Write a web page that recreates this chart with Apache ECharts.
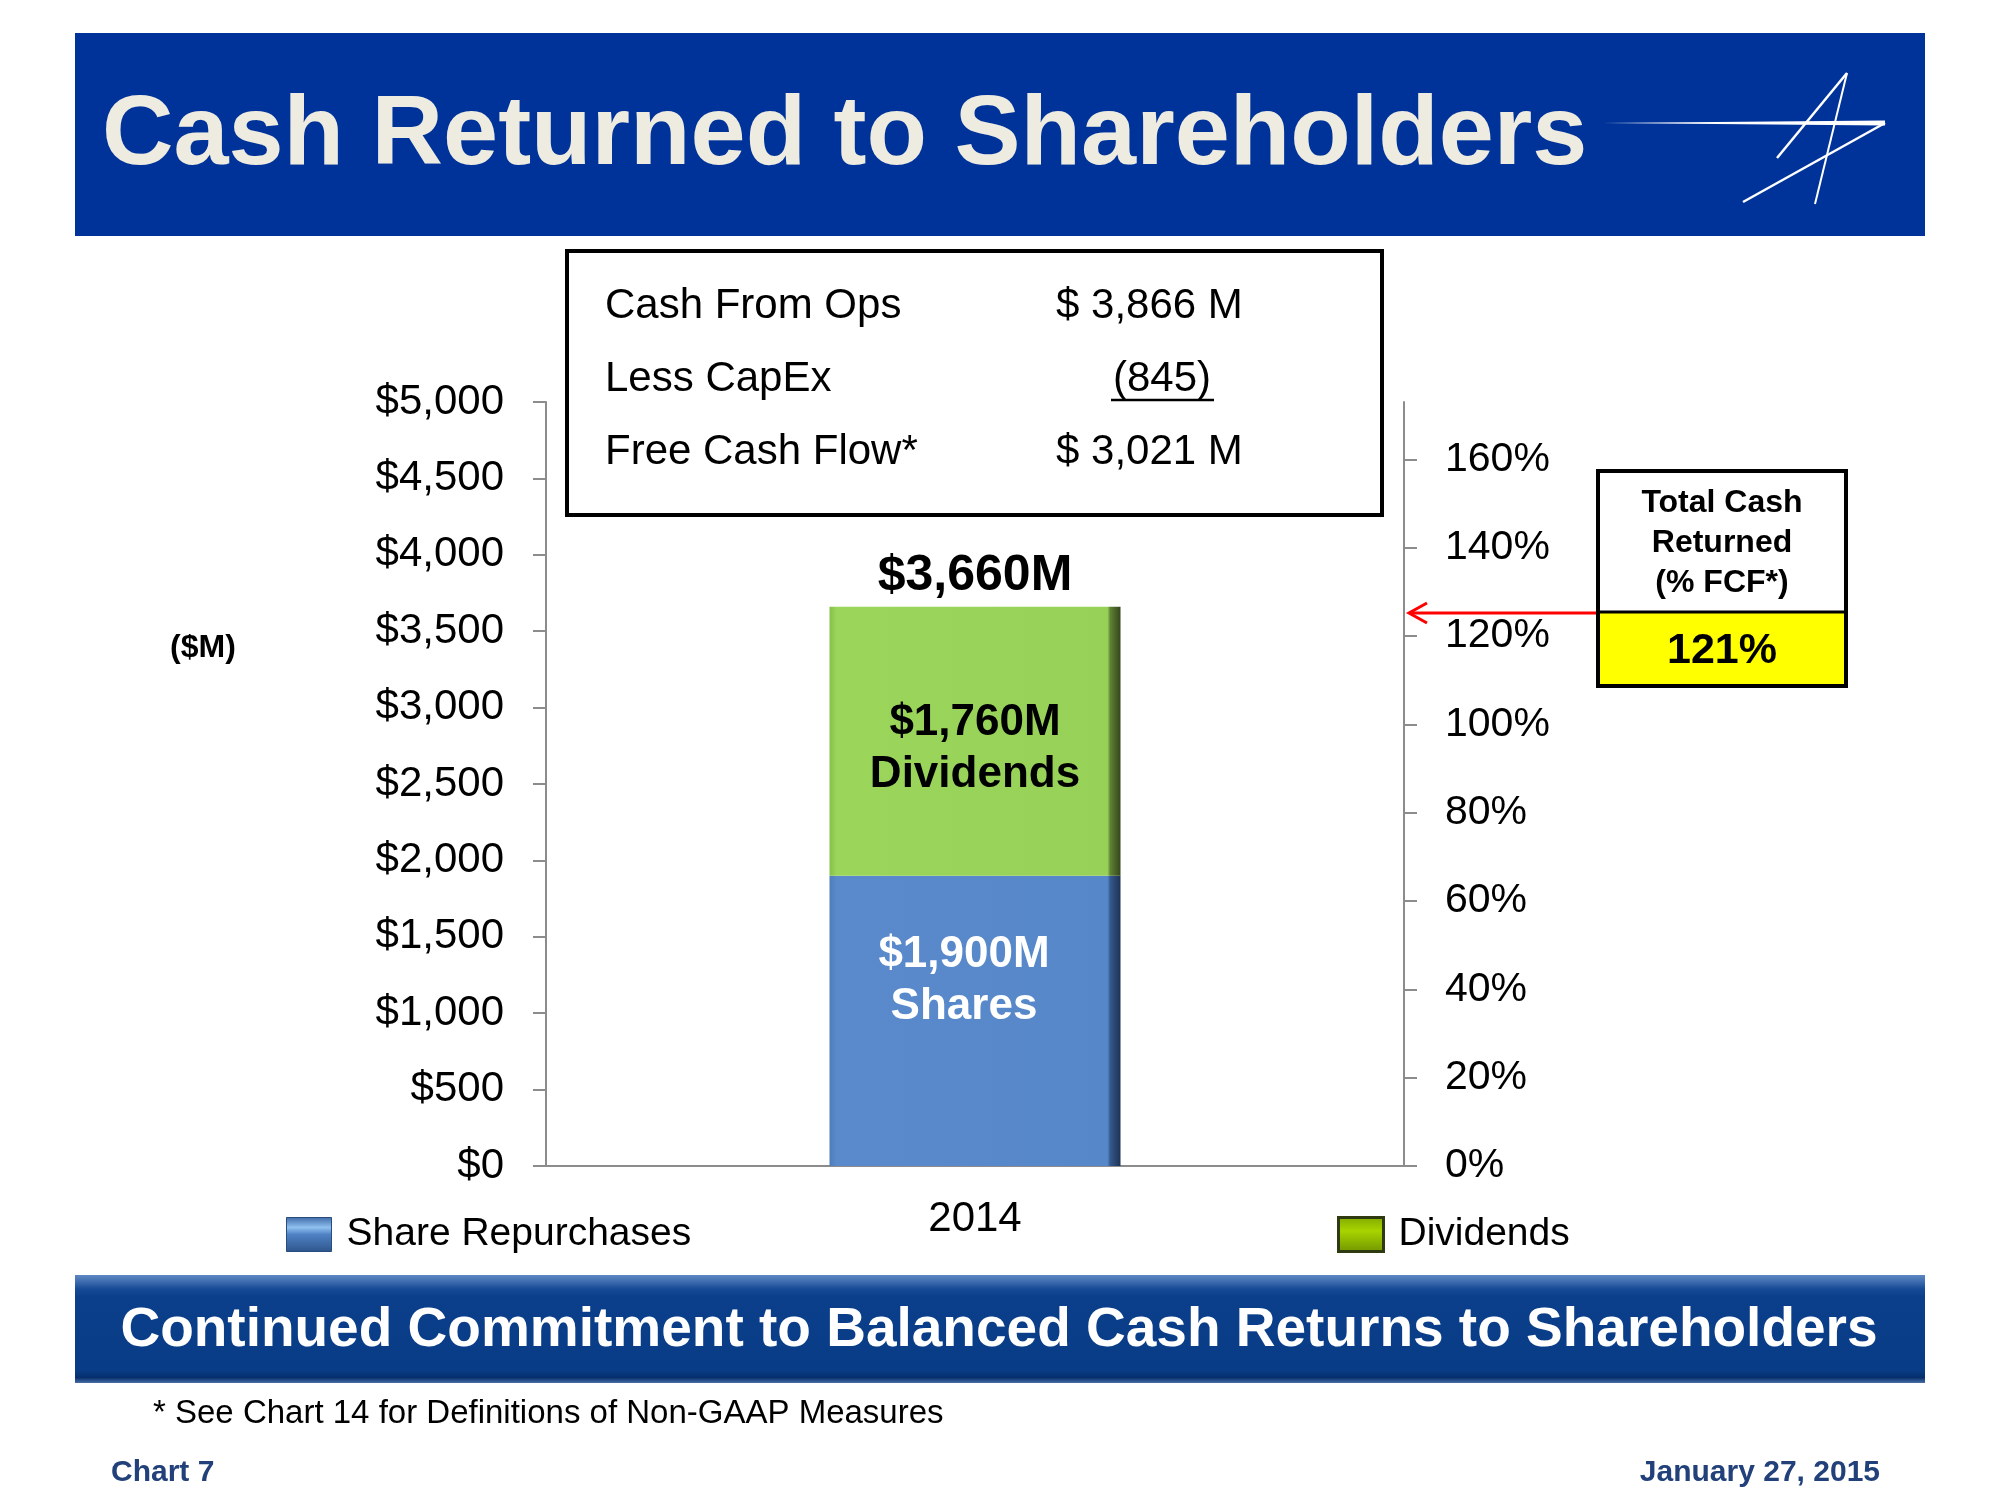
<!DOCTYPE html>
<html>
<head>
<meta charset="utf-8">
<script src="https://cdn.jsdelivr.net/npm/echarts@6/dist/echarts.min.js"></script>
<style>
  html, body { margin: 0; padding: 0; background: #ffffff; }
  #chart { width: 2000px; height: 1500px; }
</style>
</head>
<body>
<div id="chart"></div>
<script>
// ---- data ----
const years = ['2014'];
const shareRepurchases = [1900];
const dividends = [1760];
const segmentNames = ['Shares', 'Dividends'];
const seriesNames = ['Share Repurchases', 'Dividends'];
const leftAxisMin = 0, leftAxisMax = 5000, leftAxisStep = 500;
const rightTicks = [0, 20, 40, 60, 80, 100, 120, 140, 160];
const rightAxisMax = 173;
const tableLabels = ['Cash From Ops', 'Less CapEx', 'Free Cash Flow*'];
const tableValues = ['$ 3,866 M', '(845)', '$ 3,021 M'];
const pctFCF = 121;
const boxTitle = ['Total Cash', 'Returned', '(% FCF*)'];
const title = 'Cash Returned to Shareholders';
const banner = 'Continued Commitment to Balanced Cash Returns to Shareholders';
const footnote = '* See Chart 14 for Definitions of Non-GAAP Measures';
const footLeft = 'Chart 7';
const footRight = 'January 27, 2015';
const unitLabel = '($M)';

const totals = years.map((_, i) => shareRepurchases[i] + dividends[i]);
const FONT = "'Liberation Sans', Arial, Helvetica, sans-serif";
const fmtMoney = v => '$' + v.toLocaleString('en-US');

const chart = echarts.init(document.getElementById('chart'), null, { renderer: 'canvas' });
const LG = echarts.graphic.LinearGradient;

const greenFill = new LG(0, 0, 1, 0, [
  { offset: 0, color: '#86BF4A' }, { offset: 0.025, color: '#9BD65B' },
  { offset: 0.955, color: '#97D158' }, { offset: 0.965, color: '#5F8233' },
  { offset: 1, color: '#34461C' }
]);
const blueFill = new LG(0, 0, 1, 0, [
  { offset: 0, color: '#4F7DBB' }, { offset: 0.025, color: '#5A8ACB' },
  { offset: 0.955, color: '#5687C8' }, { offset: 0.965, color: '#34588C' },
  { offset: 1, color: '#1D3254' }
]);

const option = {
  backgroundColor: '#ffffff',
  animation: false,
  textStyle: { fontFamily: FONT },
  grid: { left: 546, right: 596, top: 402, bottom: 334, containLabel: false },
  xAxis: {
    type: 'category',
    data: years,
    axisLine: { show: true, lineStyle: { color: '#8C8C8C', width: 2 } },
    axisTick: { show: false },
    axisLabel: { fontSize: 42, color: '#000', margin: 32, fontFamily: FONT },
    splitLine: { show: false }
  },
  yAxis: [
    {
      type: 'value', min: leftAxisMin, max: leftAxisMax, interval: leftAxisStep,
      position: 'left',
      axisLine: { show: true, lineStyle: { color: '#8C8C8C', width: 2 } },
      axisTick: { show: true, length: 13, lineStyle: { color: '#8C8C8C', width: 2 } },
      axisLabel: { fontSize: 42, color: '#000', margin: 42, fontFamily: FONT, formatter: v => fmtMoney(v) },
      splitLine: { show: false }
    },
    {
      type: 'value', min: 0, max: rightAxisMax, interval: 20,
      position: 'right',
      axisLine: { show: true, lineStyle: { color: '#8C8C8C', width: 2 } },
      axisTick: { show: true, length: 13, lineStyle: { color: '#8C8C8C', width: 2 }, customValues: rightTicks },
      axisLabel: {
        fontSize: 41, color: '#000', margin: 41, fontFamily: FONT, customValues: rightTicks,
        formatter: v => (rightTicks.indexOf(v) >= 0 ? v + '%' : '')
      },
      splitLine: { show: false }
    }
  ],
  legend: [
    {
      left: 286, top: 1215, itemWidth: 45, itemHeight: 34, padding: 0,
      icon: 'rect', selectedMode: false,
      textStyle: { fontSize: 39, color: '#000', fontFamily: FONT, padding: [0, 0, 0, 10] },
      data: [{ name: seriesNames[0], itemStyle: { color: new LG(0, 0, 0, 1, [
        { offset: 0, color: '#3E6AA6' }, { offset: 0.3, color: '#8FC0F0' },
        { offset: 0.5, color: '#4F82C4' }, { offset: 1, color: '#2E558C' }]), borderColor: '#2A4C7C', borderWidth: 1 } }]
    },
    {
      left: 1337, top: 1215, itemWidth: 45, itemHeight: 34, padding: 0,
      icon: 'rect', selectedMode: false,
      textStyle: { fontSize: 39, color: '#000', fontFamily: FONT, padding: [0, 0, 0, 10] },
      data: [{ name: seriesNames[1], itemStyle: { color: new LG(0, 0, 0, 1, [
        { offset: 0, color: '#7FA800' }, { offset: 0.4, color: '#A8D400' },
        { offset: 1, color: '#6F9400' }]), borderColor: '#2F3A10', borderWidth: 3 } }]
    }
  ],
  series: [
    {
      name: seriesNames[0], type: 'bar', stack: 'total', barWidth: 291,
      data: shareRepurchases,
      itemStyle: { color: blueFill },
      label: {
        show: true, position: 'inside', offset: [-11, -40],
        formatter: p => fmtMoney(p.value) + 'M\n' + segmentNames[0],
        fontSize: 44, fontWeight: 'bold', color: '#ffffff', lineHeight: 52, fontFamily: FONT
      }
    },
    {
      name: seriesNames[1], type: 'bar', stack: 'total', barWidth: 291,
      data: dividends,
      itemStyle: { color: greenFill },
      label: {
        show: true, position: 'inside', offset: [0, 8],
        formatter: p => fmtMoney(p.value) + 'M\n' + segmentNames[1],
        fontSize: 44, fontWeight: 'bold', color: '#000000', lineHeight: 52, fontFamily: FONT
      }
    },
    {
      name: 'Total', type: 'scatter', symbolSize: 0, silent: true,
      itemStyle: { opacity: 1 },
      data: totals.map((t, i) => [years[i], t]),
      label: {
        show: true, position: 'top', distance: 6, opacity: 1,
        formatter: p => fmtMoney(p.value[1]) + 'M',
        fontSize: 50, fontWeight: 'bold', color: '#000000', fontFamily: FONT
      }
    }
  ],
  graphic: [
    // header band
    { type: 'rect', shape: { x: 75, y: 33, width: 1850, height: 203 }, style: { fill: '#003399' }, z: 0 },
    { type: 'text', x: 102, y: 137, style: { text: title, fill: '#EEECE1', font: 'bold 99px ' + FONT, textVerticalAlign: 'middle' }, z: 2 },
    // logo
    { type: 'polygon', shape: { points: [[1603, 123], [1885, 120.5], [1885, 125.5]] }, style: { fill: '#ffffff' }, z: 2 },
    { type: 'line', shape: { x1: 1847, y1: 73, x2: 1777, y2: 158 }, style: { stroke: '#ffffff', lineWidth: 2.5 }, z: 2 },
    { type: 'line', shape: { x1: 1847, y1: 73, x2: 1815, y2: 204 }, style: { stroke: '#ffffff', lineWidth: 2 }, z: 2 },
    { type: 'line', shape: { x1: 1885, y1: 123, x2: 1743, y2: 202 }, style: { stroke: '#ffffff', lineWidth: 2.5 }, z: 2 },

    // cash table box
    { type: 'rect', shape: { x: 567, y: 251, width: 815, height: 264 }, style: { fill: 'none', stroke: '#000', lineWidth: 4 }, z: 5 },
    { type: 'text', x: 605, y: 306, style: { text: tableLabels[0], fill: '#000', font: '42px ' + FONT, textVerticalAlign: 'middle' }, z: 5 },
    { type: 'text', x: 605, y: 379, style: { text: tableLabels[1], fill: '#000', font: '42px ' + FONT, textVerticalAlign: 'middle' }, z: 5 },
    { type: 'text', x: 605, y: 452, style: { text: tableLabels[2], fill: '#000', font: '42px ' + FONT, textVerticalAlign: 'middle' }, z: 5 },
    { type: 'text', x: 1056, y: 306, style: { text: tableValues[0], fill: '#000', font: '42px ' + FONT, textVerticalAlign: 'middle' }, z: 5 },
    { type: 'text', x: 1162, y: 379, style: { text: tableValues[1], fill: '#000', font: '42px ' + FONT, textAlign: 'center', textVerticalAlign: 'middle' }, z: 5 },
    { type: 'line', shape: { x1: 1111, y1: 400, x2: 1214, y2: 400 }, style: { stroke: '#000', lineWidth: 2.5 }, z: 5 },
    { type: 'text', x: 1056, y: 452, style: { text: tableValues[2], fill: '#000', font: '42px ' + FONT, textVerticalAlign: 'middle' }, z: 5 },

    // unit label
    { type: 'text', x: 203, y: 648, style: { text: unitLabel, fill: '#000', font: 'bold 32px ' + FONT, textAlign: 'center', textVerticalAlign: 'middle' }, z: 5 },

    // right box
    { type: 'rect', shape: { x: 1598, y: 612, width: 248, height: 74 }, style: { fill: '#FFFF00' }, z: 4 },
    { type: 'rect', shape: { x: 1598, y: 471, width: 248, height: 215 }, style: { fill: 'none', stroke: '#000', lineWidth: 4 }, z: 5 },
    { type: 'line', shape: { x1: 1598, y1: 612, x2: 1846, y2: 612 }, style: { stroke: '#000', lineWidth: 3 }, z: 5 },
    { type: 'text', x: 1722, y: 503, style: { text: boxTitle[0], fill: '#000', font: 'bold 32px ' + FONT, textAlign: 'center', textVerticalAlign: 'middle' }, z: 5 },
    { type: 'text', x: 1722, y: 543, style: { text: boxTitle[1], fill: '#000', font: 'bold 32px ' + FONT, textAlign: 'center', textVerticalAlign: 'middle' }, z: 5 },
    { type: 'text', x: 1722, y: 583, style: { text: boxTitle[2], fill: '#000', font: 'bold 32px ' + FONT, textAlign: 'center', textVerticalAlign: 'middle' }, z: 5 },
    { type: 'text', x: 1722, y: 651, style: { text: pctFCF + '%', fill: '#000', font: 'bold 43px ' + FONT, textAlign: 'center', textVerticalAlign: 'middle' }, z: 5 },
    // arrow
    { type: 'line', shape: { x1: 1596, y1: 613, x2: 1409, y2: 613 }, style: { stroke: '#FF0000', lineWidth: 3 }, z: 5 },
    { type: 'polyline', shape: { points: [[1427, 603], [1409, 613], [1427, 623]] }, style: { stroke: '#FF0000', lineWidth: 3, fill: 'none' }, z: 5 },

    // bottom banner
    { type: 'rect', shape: { x: 75, y: 1275, width: 1850, height: 108 },
      style: { fill: new LG(0, 0, 0, 1, [
        { offset: 0, color: '#5E88C4' }, { offset: 0.06, color: '#3F6DB0' },
        { offset: 0.13, color: '#164A96' }, { offset: 0.2, color: '#0B3F8B' },
        { offset: 0.88, color: '#093C86' }, { offset: 0.95, color: '#062F6C' },
        { offset: 1, color: '#4A6FA6' }]) }, z: 1 },
    { type: 'text', x: 999, y: 1331, style: { text: banner, fill: '#ffffff', font: 'bold 55px ' + FONT, textAlign: 'center', textVerticalAlign: 'middle' }, z: 2 },

    // footnotes
    { type: 'text', x: 153, y: 1414, style: { text: footnote, fill: '#000', font: '33px ' + FONT, textVerticalAlign: 'middle' }, z: 2 },
    { type: 'text', x: 111, y: 1473, style: { text: footLeft, fill: '#22417A', font: 'bold 30px ' + FONT, textVerticalAlign: 'middle' }, z: 2 },
    { type: 'text', x: 1880, y: 1473, style: { text: footRight, fill: '#22417A', font: 'bold 30px ' + FONT, textAlign: 'right', textVerticalAlign: 'middle' }, z: 2 }
  ]
};

chart.setOption(option);
</script>
</body>
</html>
